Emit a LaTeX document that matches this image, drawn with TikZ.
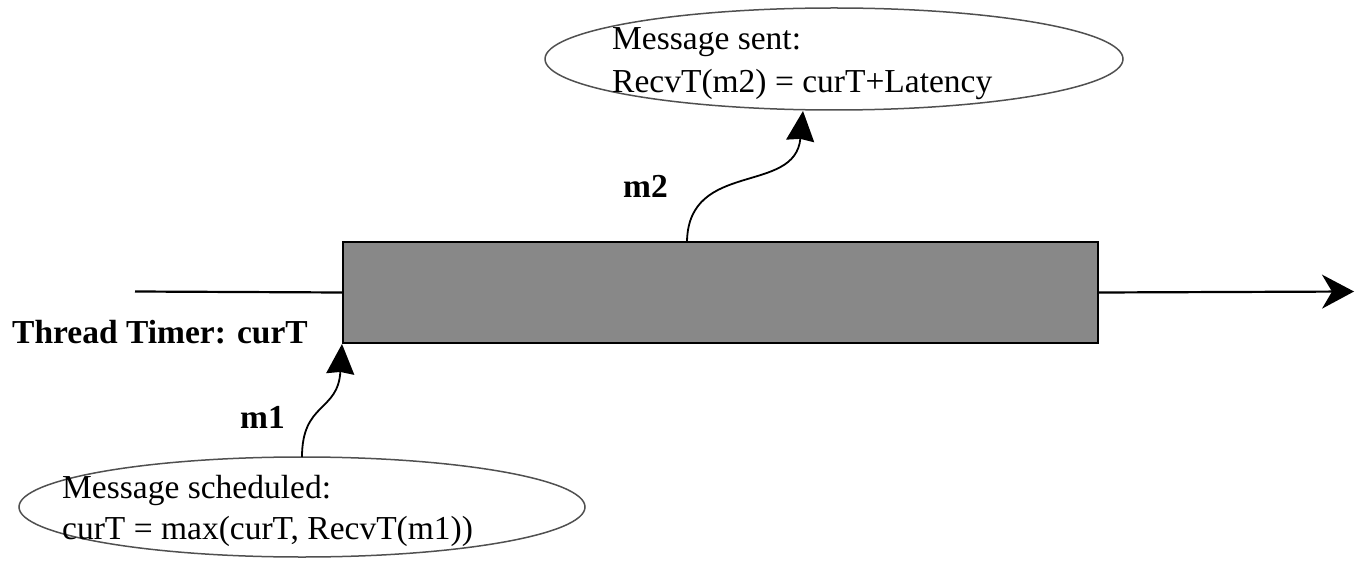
\documentclass[tikz,border=0pt]{standalone}
\usepackage{fontspec}
\setmainfont{Liberation Serif}
\usetikzlibrary{shapes.geometric,arrows.meta}
\definecolor{barfill}{RGB}{136,136,136}
\definecolor{ellline}{RGB}{80,80,80}
\tikzset{
  bubble/.style={draw=ellline, line width=1.5pt, ellipse, inner sep=0pt},
  txt/.style={font=\fontsize{33.5}{42}\selectfont, inner sep=0pt, anchor=base west},
  btxt/.style={font=\fontsize{33.5}{42}\selectfont\bfseries, inner sep=0pt, anchor=base west},
  msgarrow/.style={line width=1.8pt, -{Stealth[length=30pt,width=28pt,inset=2pt]}},
  timeline/.style={line width=2.2pt}
}
\begin{document}
\begin{tikzpicture}[x=1pt,y=-1pt]
\useasboundingbox (0,0) rectangle (1364,561);
% bar
\node[draw, line width=2pt, fill=barfill, minimum width=755pt, minimum height=101pt,
      inner sep=0pt, anchor=north west] (bar) at (342,241) {};
% timeline
\coordinate (lineL) at (135,291.5);
\coordinate (lineR) at (1354,291.5);
\draw[timeline] (lineL) -- (bar.west);
\draw[timeline, -{Stealth[length=32pt,width=34pt,inset=10pt]}] (bar.east) -- (lineR);
% ellipses
\node[bubble, minimum width=578pt, minimum height=102pt] (top) at (834,59) {};
\node[bubble, minimum width=566pt, minimum height=100pt] (bot) at (302,507) {};
% texts
\node[txt] (t1) at (612,50) {Message sent:};
\node[txt] (t2) at (612,93) {RecvT(m2) = curT+Latency};
\node[txt] (b1) at (62,498) {Message scheduled:};
\node[txt] (b2) at (62,539) {curT = max(curT, RecvT(m1))};
\node[btxt] (thr) at (12,343) {Thread Timer: curT};
\node[btxt] (m1) at (240,428) {m1};
\node[btxt] (m2) at (623,198) {m2};
% arrow anchor points
\coordinate (m2s) at (687,241);
\coordinate (m2e) at (803,111);
\coordinate (m1s) at (302,457);
\coordinate (m1e) at (bar.south west);
\draw[msgarrow] (m2s) .. controls (689,160) and (795,195) .. (m2e);
\draw[msgarrow] (m1s) .. controls (302,402) and (338,412) .. (m1e);
\end{tikzpicture}
\end{document}
